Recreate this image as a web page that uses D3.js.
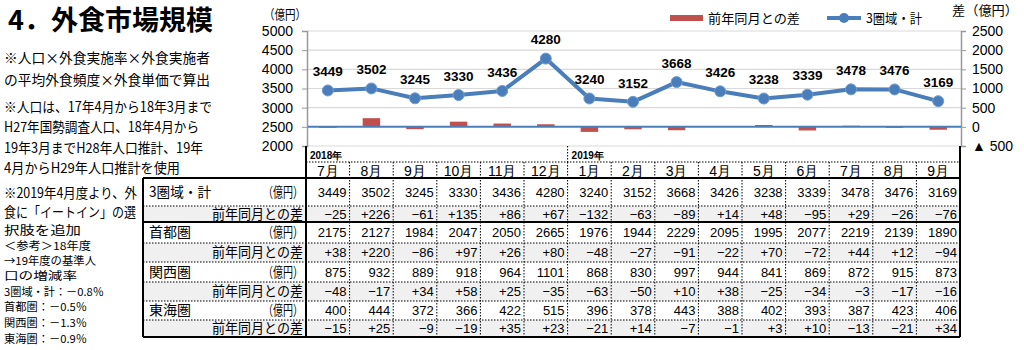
<!DOCTYPE html>
<html><head><meta charset="utf-8">
<script src="https://cdn.jsdelivr.net/npm/d3@7"></script>
<style>
html,body{margin:0;padding:0;background:#fff;}
svg{display:block;}
text{font-family:"Noto Sans CJK JP","Noto Sans",sans-serif;fill:#000;}
.num{font-family:"Liberation Sans",Arial,sans-serif;}
</style></head>
<body><svg id="c" width="1024" height="350"></svg>
<script>
const months = ["7月","8月","9月","10月","11月","12月","1月","2月","3月","4月","5月","6月","7月","8月","9月"];
const years = [{label:"2018年", start:0},{label:"2019年", start:6}];
const total = [3449,3502,3245,3330,3436,4280,3240,3152,3668,3426,3238,3339,3478,3476,3169];
const totalDiff = [-25,226,-61,135,86,67,-132,-63,-89,14,48,-95,29,-26,-76];
const shuto = [2175,2127,1984,2047,2050,2665,1976,1944,2229,2095,1995,2077,2219,2139,1890];
const shutoDiff = [38,220,-86,97,26,80,-48,-27,-91,-22,70,-72,44,12,-94];
const kansai = [875,932,889,918,964,1101,868,830,997,944,841,869,872,915,873];
const kansaiDiff = [-48,-17,34,58,25,-35,-63,-50,10,38,-25,-34,-3,-17,-16];
const tokai = [400,444,372,366,422,515,396,378,443,388,402,393,387,423,406];
const tokaiDiff = [-15,25,-9,-19,35,23,-21,14,-7,-1,3,10,-13,-21,34];
const leftTicks = [2000,2500,3000,3500,4000,4500,5000];
const rightTicks = [-500,0,500,1000,1500,2000,2500];
const rowLabels = ["3圏域・計","前年同月との差","首都圏","前年同月との差","関西圏","前年同月との差","東海圏","前年同月との差"];
const rowData = [total,totalDiff,shuto,shutoDiff,kansai,kansaiDiff,tokai,tokaiDiff];
const notes = [
 ["※人口×外食実施率×外食実施者",58,14,206],
 ["の平均外食頻度×外食単価で算出",80,14,206],
 ["※人口は、17年4月から18年3月まで",107,14,208],
 ["H27年国勢調査人口、18年4月から",127,14,195],
 ["19年3月までH28年人口推計、19年",148,14,199],
 ["4月からH29年人口推計を使用",168,14,176],
 ["※2019年4月度より、外",193,14,133],
 ["食に「イートイン」の選",212,13.5,132],
 ["択肢を追加",230.5,12,77],
 ["＜参考＞18年度",246,11,87],
 ["→19年度の基準人",261,11,92],
 ["口の増減率",276,11,73],
 ["3圏域・計：－0.8％",292,11,100],
 ["首都圏：－0.5％",307.5,11,83],
 ["関西圏：－1.3％",323.5,11,83],
 ["東海圏：－0.9％",339.5,11,83]
];

const svg = d3.select("#c");
const BLUE = "#4A7EBB", RED = "#C0504D";
const x = d3.scaleBand().domain(d3.range(months.length)).range([306, 960]).paddingInner(0).paddingOuter(0);
const yL = d3.scaleLinear().domain([2000,5000]).range([146,31]);
const yR = d3.scaleLinear().domain([-500,2500]).range([146,31]);
const bw = x.bandwidth();

function txt(xp, yp, s, size, len, anchor){
  const t = svg.append("text").attr("x",xp).attr("y",yp).attr("dy","0.35em").attr("font-size",size).text(s);
  if(anchor) t.attr("text-anchor",anchor);
  if(len) t.attr("textLength",len).attr("lengthAdjust","spacingAndGlyphs");
  return t;
}

// title
svg.append("text").attr("x",8).attr("y",30).attr("font-size",27).attr("font-weight",700)
  .attr("textLength",205).attr("lengthAdjust","spacingAndGlyphs").text("4．外食市場規模");

// notes
notes.forEach(n=>{ txt(4, n[1], n[0], n[2], n[3]); });

// gridlines
svg.append("g").selectAll("line").data(leftTicks.filter(d=>d!==2500)).join("line")
  .attr("x1",308).attr("x2",961).attr("y1",d=>yL(d)).attr("y2",d=>yL(d))
  .attr("stroke","#d9d9d9").attr("stroke-width",1.2);

// axes
const gL = svg.append("g").attr("transform","translate(307,0)")
  .call(d3.axisLeft(yL).tickValues(leftTicks).tickSize(5).tickPadding(9).tickFormat(d3.format("d")));
gL.select(".domain").attr("stroke","#999").attr("stroke-width",1.5);
gL.selectAll(".tick line").attr("stroke","#999");
gL.selectAll("text").attr("class","num").attr("font-size",14).attr("fill","#000");

const gR = svg.append("g").attr("transform","translate(961,0)")
  .call(d3.axisRight(yR).tickValues(rightTicks).tickSize(5).tickPadding(6)
    .tickFormat(d=> d<0 ? "▲ "+Math.abs(d) : d3.format("d")(d)));
gR.select(".domain").attr("stroke","#999").attr("stroke-width",1.5);
gR.selectAll(".tick line").attr("stroke","#999");
gR.selectAll("text").attr("class","num").attr("font-size",14).attr("fill","#000");

txt(264, 14, "（億円）", 13, 42);
txt(952, 10, "差（億円）", 13, 66);

// bars
const barW = bw*0.4;
svg.append("g").selectAll("rect").data(totalDiff).join("rect")
  .attr("x",(d,i)=>x(i)+bw/2-barW/2).attr("width",barW)
  .attr("y",d=>Math.min(yR(d),yR(0))).attr("height",d=>Math.abs(yR(d)-yR(0)))
  .attr("fill",RED);

// zero line
svg.append("line").attr("x1",308).attr("x2",961).attr("y1",yR(0)).attr("y2",yR(0))
  .attr("stroke",BLUE).attr("stroke-width",2);

// line
svg.append("path").datum(total)
  .attr("d",d3.line().x((d,i)=>x(i)+bw/2).y(d=>yL(d)))
  .attr("fill","none").attr("stroke",BLUE).attr("stroke-width",4).attr("stroke-linejoin","round");
svg.append("g").selectAll("circle").data(total).join("circle")
  .attr("cx",(d,i)=>x(i)+bw/2).attr("cy",d=>yL(d)).attr("r",5.5)
  .attr("fill",BLUE).attr("stroke","#6f9bd1").attr("stroke-width",1);
svg.append("g").selectAll("text").data(total).join("text")
  .attr("class","num").attr("x",(d,i)=>x(i)+bw/2).attr("y",d=>yL(d)-19).attr("dy","0.35em")
  .attr("text-anchor","middle").attr("font-size",13.5).attr("font-weight",700).text(d=>d);

// legend
svg.append("rect").attr("x",670).attr("y",15).attr("width",33).attr("height",6).attr("fill",RED);
txt(708, 18, "前年同月との差", 13, 92);
svg.append("line").attr("x1",827).attr("x2",861).attr("y1",18).attr("y2",18).attr("stroke",BLUE).attr("stroke-width",4);
svg.append("circle").attr("cx",844).attr("cy",18).attr("r",5).attr("fill",BLUE);
txt(866, 18, "3圏域・計", 13, 56);

// table
const rowB = [178,206,222,243,262,282,301,320,337];
const tL = 143, tM = 306, tR = 960;
for(let r=1;r<8;r+=2){
  svg.append("rect").attr("x",tL).attr("y",rowB[r]).attr("width",tR-tL).attr("height",rowB[r+1]-rowB[r]).attr("fill","#f0f0f0");
}
years.forEach(y=>{
  svg.append("text").attr("class","num").attr("x",x(y.start)+4).attr("y",155).attr("dy","0.35em").attr("font-size",10).attr("font-weight",700).text(y.label);
});
svg.append("line").attr("x1",x(6)).attr("x2",x(6)).attr("y1",146).attr("y2",162)
  .attr("stroke","#000").attr("stroke-dasharray","1.5,1.5");
svg.append("line").attr("x1",tM).attr("x2",tR).attr("y1",162).attr("y2",162).attr("stroke","#000").attr("stroke-dasharray","1.5,1.5");
svg.append("g").selectAll("text").data(months).join("text")
  .attr("class","num").attr("x",(d,i)=>x(i)+bw/2).attr("y",171).attr("dy","0.35em").attr("text-anchor","middle").attr("font-size",14).text(d=>d);
d3.range(1,months.length).forEach(i=>{
  svg.append("line").attr("x1",x(i)).attr("x2",x(i)).attr("y1",162).attr("y2",337)
    .attr("stroke","#000").attr("stroke-dasharray","1.5,1.5");
});
[1,3,4,5,6,7].forEach(r=>{
  svg.append("line").attr("x1",tL).attr("x2",tR).attr("y1",rowB[r]).attr("y2",rowB[r])
    .attr("stroke","#000").attr("stroke-dasharray","1.5,1.5");
});
[178,222,337].forEach(yv=>{
  svg.append("line").attr("x1",tL).attr("x2",tR).attr("y1",yv).attr("y2",yv).attr("stroke","#000").attr("stroke-width",2);
});
svg.append("line").attr("x1",tL).attr("x2",tL).attr("y1",178).attr("y2",337).attr("stroke","#000").attr("stroke-width",2);
svg.append("line").attr("x1",tM).attr("x2",tM).attr("y1",146).attr("y2",337).attr("stroke","#000").attr("stroke-width",2);
svg.append("line").attr("x1",tR).attr("x2",tR).attr("y1",146).attr("y2",337).attr("stroke","#000").attr("stroke-width",2);

rowLabels.forEach((lab,r)=>{
  const cy = (rowB[r]+rowB[r+1])/2;
  if(r%2===0){
    txt(149, cy, lab, 14, lab.length===5 ? 62 : 42);
    txt(303, cy, "（億円）", 14, 40, "end");
  } else {
    txt(303, cy, lab, 14, 91, "end");
  }
  svg.append("g").selectAll("text").data(rowData[r]).join("text")
    .attr("class","num").attr("x",(d,i)=>x(i)+bw-3).attr("y",cy).attr("dy","0.35em")
    .attr("text-anchor","end").attr("font-size",13)
    .text(d=> r%2===1 ? (d>0?"+"+d:"−"+Math.abs(d)) : d);
});
</script></body></html>
